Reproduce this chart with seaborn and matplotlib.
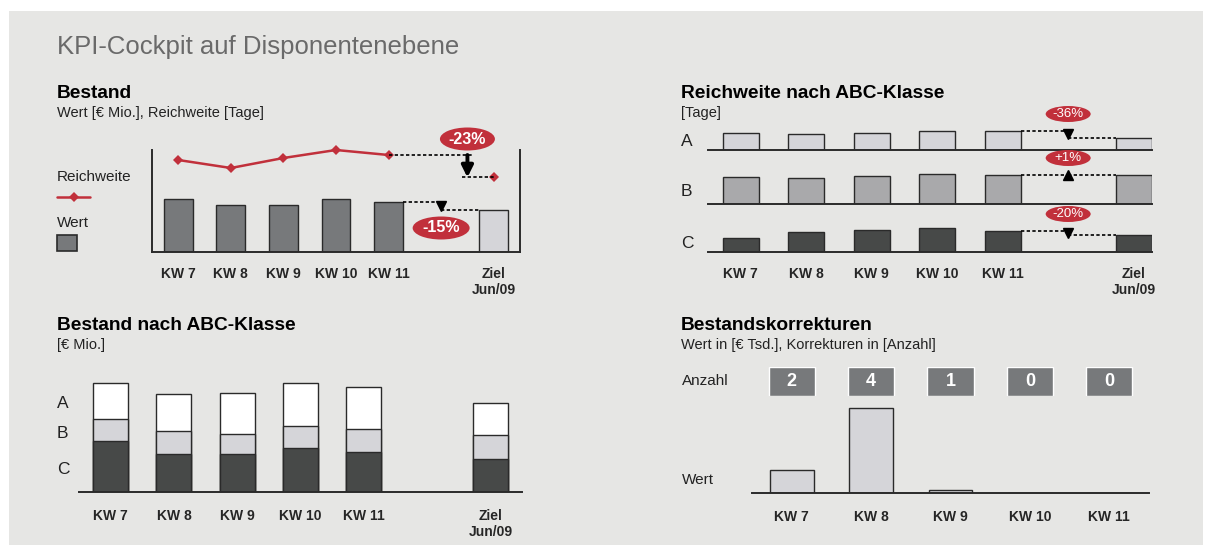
import matplotlib
matplotlib.use("Agg")
import matplotlib.pyplot as plt
import seaborn as sns
from matplotlib.patches import Ellipse, Rectangle
from matplotlib.lines import Line2D
from matplotlib.transforms import IdentityTransform


# Data
weeks = ["KW 7", "KW 8", "KW 9", "KW 10", "KW 11"]
target = "Ziel\nJun/09"
labels = weeks + [target]
order = weeks + [" ", target]          # blank slot between KW 11 and Ziel

bestand_wert = [5.3, 4.7, 4.7, 5.3, 5.0, 4.25]        # € Mio.
bestand_reichweite = [46, 42, 47, 51, 48.5, 37.3]     # Tage
bestand_change = ["-23%", "-15%"]                     # Reichweite, Wert

abc_classes = ["A", "B", "C"]
rw_a = [17, 16, 17, 19, 19, 12.2]                      # Tage
rw_b = [27, 26, 28, 30, 29, 29.3]
rw_c = [14, 20, 22, 24, 21, 16.8]
rw_change = ["-36%", "+1%", "-20%"]

abc_a = [3.6, 3.7, 4.1, 4.3, 4.2, 3.2]                 # € Mio.
abc_b = [2.2, 2.3, 2.0, 2.2, 2.3, 2.4]
abc_c = [5.1, 3.8, 3.8, 4.4, 4.0, 3.3]

korr_anzahl = [2, 4, 1, 0, 0]
korr_wert = [23, 85, 3, 0, 0]                          # € Tsd.


# Colours
BG = "#e6e6e4"
DARK = "#77797b"
LIGHT = "#d5d5d9"
MID = "#a9a9ab"
CHAR = "#474948"
RED = "#c1303b"
EDGE = "#2a2a2a"
TXT = "#222222"

sns.set_theme(style="white")
plt.rcParams["font.family"] = ["Liberation Sans", "DejaVu Sans"]

W, H = 1206, 545
fig = plt.figure(figsize=(W / 100, H / 100), dpi=100)
fig.patch.set_facecolor("white")
fig.add_artist(Rectangle((9 / W, 0), (1203 - 9) / W, (545 - 11) / H,
                         transform=fig.transFigure, fc=BG, ec="none", zorder=-10))


def box(l, t, r, b):
    return [l / W, 1 - b / H, (r - l) / W, (b - t) / H]


def ftext(x, y, s, **kw):
    fig.text(x / W, 1 - y / H, s, va="center", ha="left", **kw)


def style(ax, xlim, ylim, pad):
    ax.set_xlim(xlim)
    ax.set_ylim(ylim)
    ax.set_facecolor("none")
    for s in ax.spines.values():
        s.set_visible(False)
    ax.spines["bottom"].set_visible(True)
    ax.spines["bottom"].set_color(EDGE)
    ax.spines["bottom"].set_linewidth(1.4)
    ax.set_yticks([])
    ax.set_xlabel("")
    ax.set_ylabel("")
    ax.tick_params(axis="x", length=0, pad=pad, labelsize=10)
    for t in ax.get_xticklabels():
        t.set_fontweight("bold")
        t.set_linespacing(1.25)


def badge(ax, x, y, dy, text, w, h, size, weight):
    cx, cy = ax.transData.transform((x, y))
    cy += dy
    fig.add_artist(Ellipse((cx, cy), w, h, transform=IdentityTransform(),
                           fc=RED, ec="none", zorder=5))
    fig.text(cx, cy, text, transform=IdentityTransform(), ha="center", va="center",
             color="white", fontsize=size, fontweight=weight, zorder=6)


dots = dict(color="black", lw=1.2, ls=(0, (2, 1.4)))
half = 0.275

# Titles
ftext(57, 47, "KPI-Cockpit auf Disponentenebene", fontsize=18.5, color="#6a6a6a")
ftext(57, 94, "Bestand", fontsize=13.8, fontweight="bold", color="black")
ftext(57, 113, "Wert [€ Mio.], Reichweite [Tage]", fontsize=10.5, color=TXT)
ftext(681, 93, "Reichweite nach ABC-Klasse", fontsize=13.8, fontweight="bold", color="black")
ftext(681, 113, "[Tage]", fontsize=10.5, color=TXT)
ftext(57, 325, "Bestand nach ABC-Klasse", fontsize=13.8, fontweight="bold", color="black")
ftext(57, 345, "[€ Mio.]", fontsize=10.5, color=TXT)
ftext(681, 326, "Bestandskorrekturen", fontsize=13.8, fontweight="bold", color="black")
ftext(681, 345, "Wert in [€ Tsd.], Korrekturen in [Anzahl]", fontsize=10.5, color=TXT)


# 1. Bestand: bars + Reichweite line
ax1 = fig.add_axes(box(152, 150, 520, 252))
pal1 = {w: DARK for w in weeks}
pal1[target] = LIGHT
sns.barplot(x=labels, y=bestand_wert, hue=labels, palette=pal1, order=order,
            width=0.55, edgecolor=EDGE, linewidth=1, saturation=1,
            errorbar=None, legend=False, ax=ax1)
style(ax1, (-0.5, 6.5), (0, 10.2), pad=10.5)
for side in ["left", "right"]:
    ax1.spines[side].set_visible(True)
    ax1.spines[side].set_color(EDGE)
    ax1.spines[side].set_linewidth(1.4)

ax1r = ax1.twinx()
xpos = [order.index(l) for l in labels]
sns.lineplot(x=xpos[:5], y=bestand_reichweite[:5], color=RED, lw=1.8,
             marker="D", markersize=5.5, markeredgewidth=0, clip_on=False, ax=ax1r)
ax1r.plot(xpos[5], bestand_reichweite[5], marker="D", ms=5.5, mew=0, color=RED)
ax1r.set_ylim(0, 51)
ax1r.set_xlim(-0.5, 6.5)
ax1r.set_yticks([])
ax1r.set_ylabel("")
for s in ax1r.spines.values():
    s.set_visible(False)

rw11, rwz = bestand_reichweite[4], bestand_reichweite[5]
ax1r.plot([4, 5.6], [rw11, rw11], **dots)
ax1r.plot([5.4, 6], [rwz, rwz], **dots)
ax1r.annotate("", xy=(5.5, rwz), xytext=(5.5, rw11),
              arrowprops=dict(arrowstyle="-|>", color="black", lw=2.8,
                              mutation_scale=17, shrinkA=0, shrinkB=0))
w11, wz = bestand_wert[4], bestand_wert[5]
ax1.plot([4 + half, 5], [w11, w11], **dots)
ax1.plot([5, 6 - half], [wz, wz], **dots)
ax1.plot(5, (w11 + wz) / 2, marker="v", ms=7.5, color="black")
badge(ax1r, 5.5, rw11, 16, bestand_change[0], 55, 23, 11.5, "bold")
badge(ax1, 5, w11, -26, bestand_change[1], 57, 23, 11.5, "bold")

# legend
ftext(57, 177, "Reichweite", fontsize=11, color=TXT)
fig.add_artist(Line2D([57 / W, 90 / W], [1 - 197 / H] * 2, color=RED, lw=1.8))
fig.add_artist(Line2D([73.5 / W], [1 - 197 / H], marker="D", ms=5.5, mew=0, color=RED))
ftext(57, 223, "Wert", fontsize=11, color=TXT)
fig.add_artist(Rectangle((57 / W, 1 - 251 / H), 20 / W, 16 / H, transform=fig.transFigure,
                         fc=DARK, ec=EDGE, lw=1.2))


# 2. Reichweite nach ABC-Klasse
rows = [(rw_a, LIGHT, 118, 150, 141), (rw_b, MID, 172, 204, 192), (rw_c, CHAR, 220, 252, 243)]
for i, (vals, col, top, bot, ly) in enumerate(rows):
    ax = fig.add_axes(box(708, top, 1152, bot))
    sns.barplot(x=labels, y=vals, order=order, color=col, width=0.55,
                edgecolor=EDGE, linewidth=1, saturation=1, errorbar=None, ax=ax)
    style(ax, (-0.5, 6.28), (0, 32), pad=10.5)
    if i < 2:
        ax.tick_params(labelbottom=False)
    ftext(681, ly, abc_classes[i], fontsize=12.5, color=TXT)
    v11, vz = vals[4], vals[5]
    ax.plot([4 + half, 5], [v11, v11], **dots)
    ax.plot([5, 6 - half], [vz, vz], **dots)
    ax.plot(5, (v11 + vz) / 2, marker="v" if vz < v11 else "^", ms=6.5,
            color="black", clip_on=False)
    badge(ax, 5, v11, 17, rw_change[i], 45, 16, 9.5, "normal")


# 3. Bestand nach ABC-Klasse (stacked)
ax3 = fig.add_axes(box(79, 372, 522, 492))
total = [a + b + c for a, b, c in zip(abc_a, abc_b, abc_c)]
bc = [b + c for b, c in zip(abc_b, abc_c)]
for vals, col in [(total, "white"), (bc, LIGHT), (abc_c, CHAR)]:
    sns.barplot(x=labels, y=vals, order=order, color=col, width=0.555,
                edgecolor=EDGE, linewidth=1, saturation=1, errorbar=None, ax=ax3)
style(ax3, (-0.5, 6.5), (0, 12), pad=12)
for name, y in zip(abc_classes, [403, 434, 469]):
    ftext(57, y, name, fontsize=12.5, color=TXT)


# 4. Bestandskorrekturen
ax4 = fig.add_axes(box(752, 403, 1149, 493))
sns.barplot(x=weeks, y=korr_wert, color=LIGHT, width=0.55, edgecolor=EDGE,
            linewidth=1, saturation=1, errorbar=None, ax=ax4)
style(ax4, (-0.5, 4.5), (0, 90), pad=12)
ftext(682, 480, "Wert", fontsize=11, color=TXT)

ax4a = fig.add_axes(box(752, 367, 1149, 396))
ax4a.bar(range(len(weeks)), 1, width=0.58, color=DARK)
for i, n in enumerate(korr_anzahl):
    ax4a.text(i, 0.5, str(n), ha="center", va="center", color="white",
              fontsize=13, fontweight="bold")
ax4a.set_xlim(-0.5, 4.5)
ax4a.set_ylim(0, 1)
ax4a.axis("off")
ftext(682, 381, "Anzahl", fontsize=11, color=TXT)

fig.savefig("out.png", dpi=100)
